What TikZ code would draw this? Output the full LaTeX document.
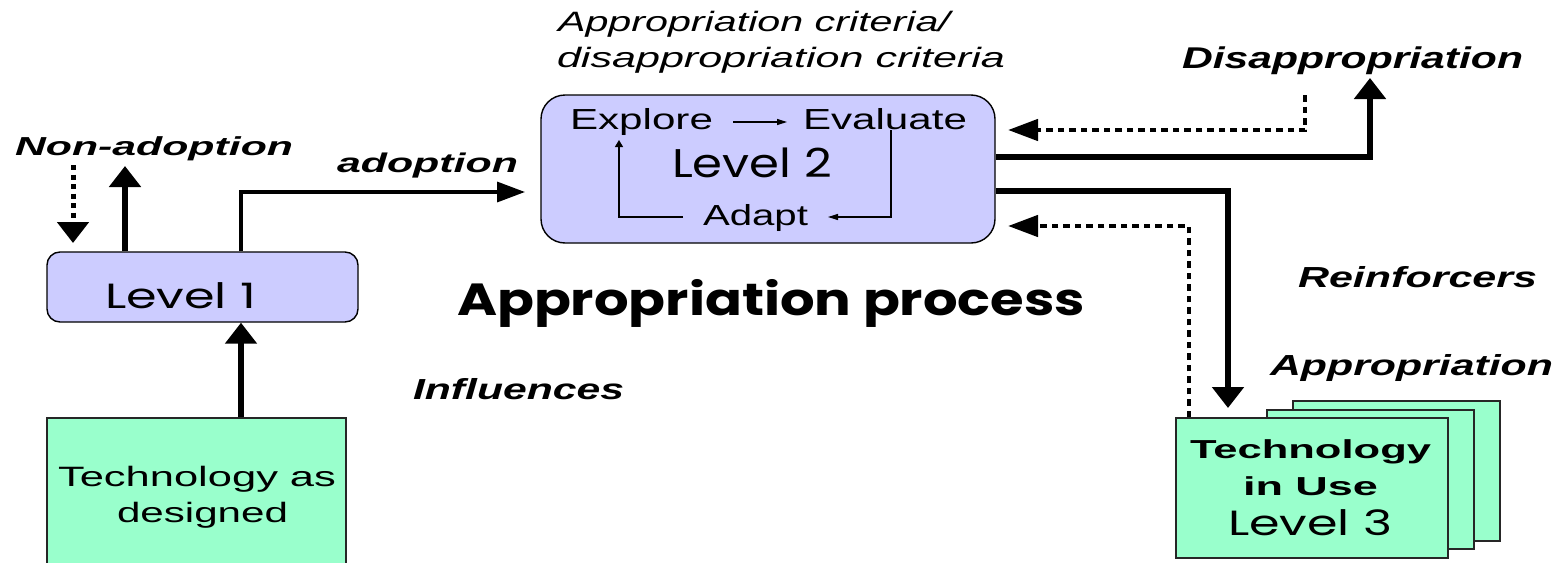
\documentclass[tikz,border=0pt]{standalone}
\usepackage{fontspec}
\usepackage{graphicx}
\setmainfont{Liberation Sans}
\newfontfamily\handfont{Poppins}
\usetikzlibrary{arrows.meta}

% one line of text, set at a given size and stretched to a given width
\newcommand{\fitline}[3]{\resizebox{#1pt}{\height}{\fontsize{#2pt}{#2pt}\selectfont #3}}

\definecolor{lavender}{HTML}{CCCCFF}
\definecolor{mint}{HTML}{99FFCC}

\begin{document}
\begin{tikzpicture}[x=1pt,y=-1pt,
  txt/.style={anchor=base west, inner sep=0pt, outer sep=0pt},
  levelbox/.style={draw=black, line width=1.4pt, fill=lavender, inner sep=0pt},
  techbox/.style={draw=black!85, line width=1.4pt, fill=mint, inner sep=0pt},
  bigarrow/.style={line width=5.5pt, -{Triangle[length=21pt,width=31pt]}},
  medarrow/.style={line width=3.4pt, -{Triangle[length=28pt,width=20pt]}},
  dotarrow/.style={line width=4.6pt, dash pattern=on 6.5pt off 5pt, -{Triangle[length=30pt,width=21pt]}},
  vdotarrow/.style={line width=5pt, dash pattern=on 5pt off 4.5pt, -{Triangle[length=21pt,width=31pt]}},
  thinharrow/.style={line width=1.2pt, -{Triangle[length=10pt,width=6pt]}},
  thinvarrow/.style={line width=1.2pt, -{Triangle[length=7pt,width=8pt]}},
]
\useasboundingbox[fill=white] (0,0) rectangle (1562,562);

% ---------- boxes ----------
\node[levelbox, rounded corners=13pt, minimum width=311pt, minimum height=70pt] (lv1box) at (202.5,287) {};
\node[levelbox, rounded corners=24pt, minimum width=454pt, minimum height=148pt] (lv2box) at (768,169) {};
\node[techbox, minimum width=299pt, minimum height=160pt] (tad) at (196.5,498) {};
\node[techbox, minimum width=207pt, minimum height=140pt] (tiuC) at (1396.5,471) {};
\node[techbox, minimum width=207pt, minimum height=139pt] (tiuB) at (1370.5,479.5) {};
\node[techbox, minimum width=272pt, minimum height=140pt] (tiu) at (1312,488) {};

% ---------- texts ----------
\node[txt] (crit1) at (558,31) {\fitline{392}{28}{\itshape Appropriation criteria/}};
\node[txt] (crit2) at (557,67) {\fitline{448}{28}{\itshape disappropriation criteria}};
\node[txt] (disap) at (1182,68) {\fitline{341}{30}{\bfseries\itshape Disappropriation}};
\node[txt] (nonad) at (15,155) {\fitline{278}{26}{\bfseries\itshape Non-adoption}};
\node[txt] (adopt) at (337,172) {\fitline{181}{27}{\bfseries\itshape adoption}};
\node[txt] (ex) at (570,129) {\fitline{143}{29}{Explore}};
\node[txt] (ev) at (803,129) {\fitline{164}{29}{Evaluate}};
\node[txt] (lv2) at (672,177) {\fitline{160}{40}{\handfont Level 2}};
\node[txt] (ad) at (703,225) {\fitline{105}{29}{Adapt}};
\node[txt] (lv1) at (105,308) {\fitline{151}{35}{\handfont Level 1}};
\node[txt] (proc) at (457,315) {\fitline{628}{45}{\handfont\bfseries Appropriation process}};
\node[txt] (reinf) at (1298,287) {\fitline{239}{29}{\bfseries\itshape Reinforcers}};
\node[txt] (appr) at (1270,375) {\fitline{283}{29}{\bfseries\itshape Appropriation}};
\node[txt] (infl) at (413,399) {\fitline{211}{29}{\bfseries\itshape Influences}};
\node[txt] (tad1) at (58,486) {\fitline{278}{28}{Technology as}};
\node[txt] (tad2) at (117,522) {\fitline{171}{28}{designed}};
\node[txt] (t3a) at (1190,458) {\fitline{241}{26}{\bfseries Technology}};
\node[txt] (t3b) at (1243,495) {\fitline{135}{26}{\bfseries in Use}};
\node[txt] (t3c) at (1228,535) {\fitline{164}{35}{\handfont Level 3}};

% ---------- routing points ----------
\coordinate (cUp) at (125,0);
\coordinate (cAd) at (241,0);
\coordinate (naDotTop) at (73,165);
\coordinate (naDotTip) at (73,243);
\coordinate (naUpTip) at (125,166);
\coordinate (adTip) at (525,192);
\coordinate (disRow) at (0,157);
\coordinate (disTip) at (1370,78);
\coordinate (fbTop) at (1305,95);
\coordinate (fbTipA) at (1008,130);
\coordinate (apRow) at (0,191);
\coordinate (apTip) at (1228,408);
\coordinate (fbCol) at (1189,0);
\coordinate (fbTipB) at (1008,226);

% ---------- connectors ----------
\draw[bigarrow] (tad.north -| cAd) -- (lv1box.south -| cAd);
\draw[bigarrow] (lv1box.north -| cUp) -- (naUpTip);
\draw[vdotarrow] (naDotTop) -- (naDotTip);
\draw[medarrow] (lv1box.north -| cAd) |- (adTip);
\draw[bigarrow] (lv2box.east |- disRow) -| (disTip);
\draw[dotarrow] (fbTop) |- (fbTipA);
\draw[bigarrow] (lv2box.east |- apRow) -| (apTip);
\draw[dotarrow] (tiu.north -| fbCol) |- (fbTipB);

% ---------- cycle inside Level 2 ----------
\draw[thinharrow] ([xshift=20pt,yshift=7pt]ex.base east) -- ([xshift=-16pt,yshift=7pt]ev.base west);
\draw[thinharrow] ([xshift=88pt,yshift=-1pt]ev.base west) |- ([xshift=20pt,yshift=8pt]ad.base east);
\draw[thinvarrow] ([xshift=-20pt,yshift=8pt]ad.base west) -| ([xshift=49pt,yshift=-11pt]ex.base west);
\end{tikzpicture}
\end{document}
